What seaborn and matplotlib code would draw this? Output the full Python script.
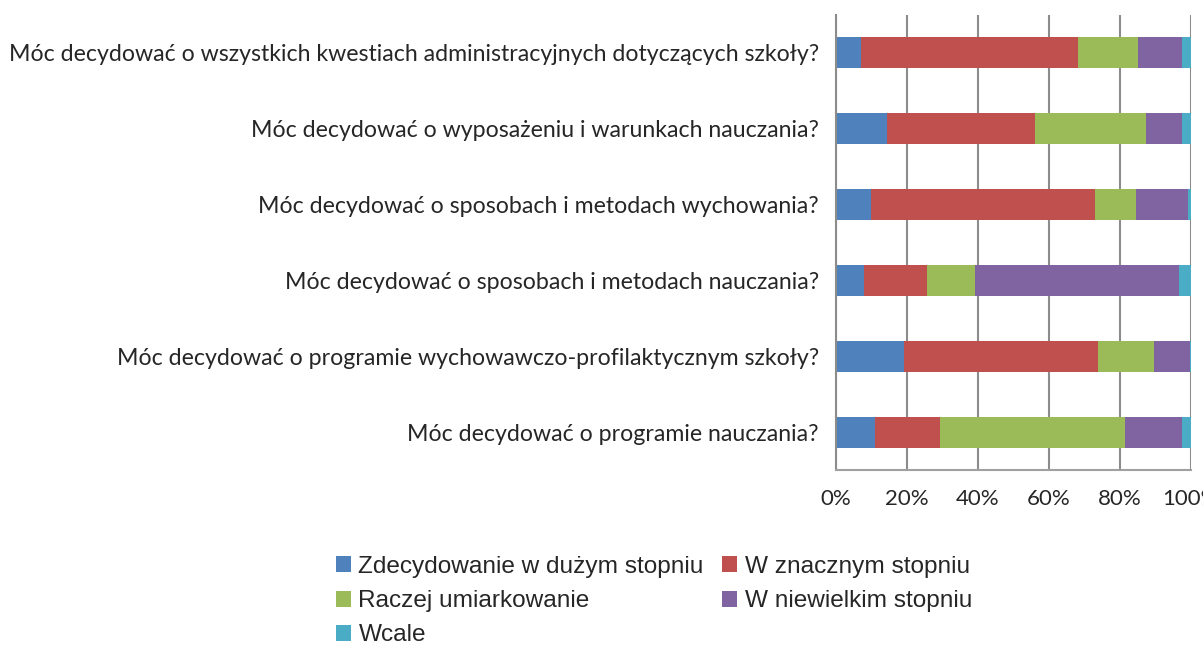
import matplotlib
matplotlib.use("Agg")
import matplotlib.pyplot as plt
import seaborn as sns
import numpy as np
from matplotlib.patches import Patch

categories = [
    "Móc decydować o wszystkich kwestiach administracyjnych dotyczących szkoły?",
    "Móc decydować o wyposażeniu i warunkach nauczania?",
    "Móc decydować o sposobach i metodach wychowania?",
    "Móc decydować o sposobach i metodach nauczania?",
    "Móc decydować o programie wychowawczo-profilaktycznym szkoły?",
    "Móc decydować o programie nauczania?",
]
series_names = [
    "Zdecydowanie w dużym stopniu",
    "W znacznym stopniu",
    "Raczej umiarkowanie",
    "W niewielkim stopniu",
    "Wcale",
]
zdecydowanie = [7.3, 14.6, 10.1, 7.9, 19.2, 11.1]
znacznym = [60.9, 41.6, 63.0, 17.8, 54.7, 18.3]
umiarkowanie = [16.9, 31.1, 11.4, 13.5, 15.8, 52.1]
niewielkim = [12.5, 10.3, 14.7, 57.5, 10.1, 16.1]
wcale = [2.4, 2.4, 0.8, 3.3, 0.2, 2.4]
x_ticks = [0, 20, 40, 60, 80, 100]
x_tick_labels = ["0%", "20%", "40%", "60%", "80%", "100%"]

colors = ["#4F81BD", "#C0504D", "#9BBB59", "#8064A2", "#4BACC6"]

sns.set_style("white")
plt.rcParams["font.family"] = ["Lato", "DejaVu Sans"]

W, H = 1203, 646
fig = plt.figure(figsize=(W / 100, H / 100), dpi=100)
ax = fig.add_axes([835.5 / W, 1 - 470 / H, (1190.7 - 835.5) / W, (470 - 15) / H])

values = np.array([zdecydowanie, znacznym, umiarkowanie, niewielkim, wcale])
cum = np.cumsum(values, axis=0)
for i in range(len(series_names) - 1, -1, -1):
    sns.barplot(x=cum[i], y=categories, color=colors[i], orient="h",
                width=0.41, saturation=1, ax=ax, linewidth=0, zorder=2)

grid_c = "#8C8C8C"
ax.set_xlim(0, 100)
ax.set_ylim(5.5, -0.5)
ax.set_axisbelow(True)
ax.xaxis.grid(True, color=grid_c, linewidth=1.5)
ax.yaxis.grid(False)
ax.set_xticks(x_ticks)
ax.set_xticklabels(x_tick_labels, fontsize=16)
ax.set_xlabel("")
ax.set_ylabel("")
ax.tick_params(axis="y", which="major", length=0, pad=12, labelsize=16.7)
ax.set_yticks(np.arange(-0.5, 6, 1.0), minor=True)
ax.tick_params(axis="y", which="minor", length=7, width=1.5, color=grid_c, direction="out")
ax.tick_params(axis="x", which="major", length=8, width=1.5, color="#A0A0A0", direction="out", pad=6)
for s in ["top", "right"]:
    ax.spines[s].set_visible(False)
ax.spines["left"].set_color(grid_c)
ax.spines["left"].set_linewidth(1.5)
ax.spines["bottom"].set_color("#A0A0A0")
ax.spines["bottom"].set_linewidth(1.5)

order = [0, 2, 4, 1, 3]
handles = [Patch(facecolor=colors[k], edgecolor="none") for k in order]
labels = [series_names[k] for k in order]
fig.legend(handles, labels, loc="upper left",
           bbox_to_anchor=(336 / W, 1 - 556 / H), ncol=2, frameon=False,
           prop={"family": "Liberation Sans", "size": 17.6},
           handlelength=0.62, handleheight=0.62, handletextpad=0.3,
           columnspacing=0.75, labelspacing=0.5, borderpad=0, borderaxespad=0)

fig.savefig("out.png", dpi=100)
